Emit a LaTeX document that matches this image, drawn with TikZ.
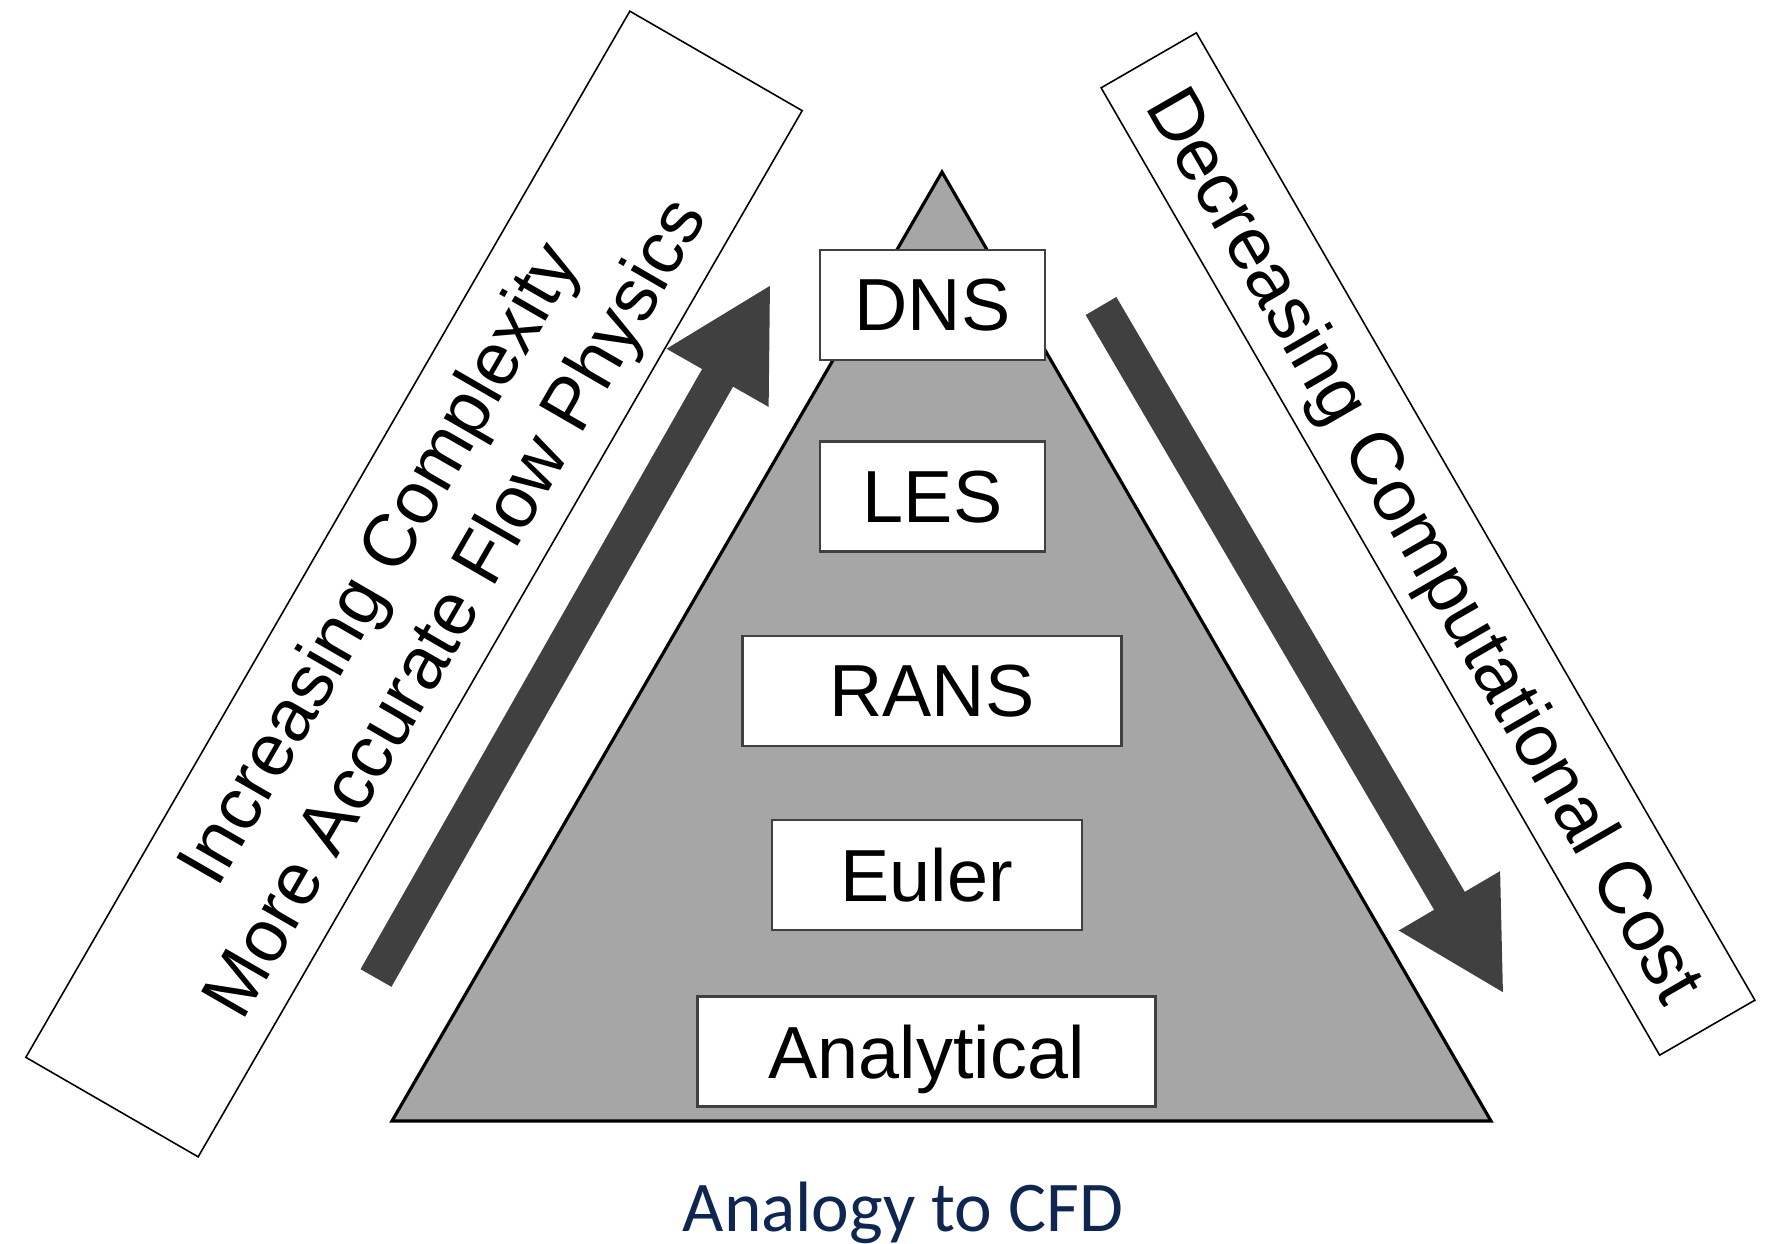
\documentclass[tikz,border=0pt]{standalone}
\usepackage{fontspec}
\setmainfont{Liberation Sans}
\newfontfamily\captionfont{Carlito}
\usetikzlibrary{arrows.meta}
\definecolor{pyrgray}{RGB}{166,166,166}
\definecolor{arrowgray}{RGB}{64,64,64}
\definecolor{capblue}{RGB}{15,38,80}

\begin{document}
\begin{tikzpicture}[
    level/.style={draw=arrowgray,line width=0.7pt,fill=white,minimum height=1.1cm,
      inner sep=0pt,text depth=0pt,font=\fontsize{21}{25}\selectfont},
    band/.style={draw,line width=0.45pt,fill=white,inner sep=0pt,align=center,
      text depth=0pt,font=\fontsize{21}{25}\selectfont},
    bigarrow/.style={arrowgray,line width=0.356cm,-{Triangle[length=1.08cm,width=1.09cm]}}]
  \useasboundingbox (0,0) rectangle (17.66,12.43);
  % pyramid
  \draw[fill=pyrgray,line width=0.9pt] (3.92,1.22) -- (9.42,10.71) -- (14.91,1.22) -- cycle;
  % levels, top to bottom
  \node[level,minimum width=2.25cm] (dns) at (9.325,9.38) {DNS};
  \node[level,minimum width=2.25cm] (les) at (9.325,7.465) {LES};
  \node[level,minimum width=3.79cm] (rans) at (9.318,5.52) {RANS};
  \node[level,minimum width=3.10cm] (euler) at (9.268,3.68) {Euler};
  \node[level,minimum width=4.58cm] (analytical) at (9.266,1.915) {Analytical};
  % side bands
  \node[band,rotate=60,minimum width=12.08cm,minimum height=1.99cm] (complexity)
    at (4.14,6.59) {Increasing Complexity\\More Accurate Flow Physics};
  \node[band,rotate=-60,minimum width=11.17cm,minimum height=1.10cm] (cost)
    at (14.28,6.99) {Decreasing Computational Cost};
  % arrows
  \coordinate (up0) at (3.76,2.65);
  \coordinate (up1) at (7.71,9.59);
  \coordinate (down0) at (11.01,9.37);
  \coordinate (down1) at (15.04,2.49);
  \draw[bigarrow] (up0) -- (up1);
  \draw[bigarrow] (down0) -- (down1);
  \node[capblue,font=\captionfont\fontsize{20.3}{24}\selectfont,anchor=base] (caption)
    at (9.03,0.115) {Analogy to CFD};
\end{tikzpicture}
\end{document}
